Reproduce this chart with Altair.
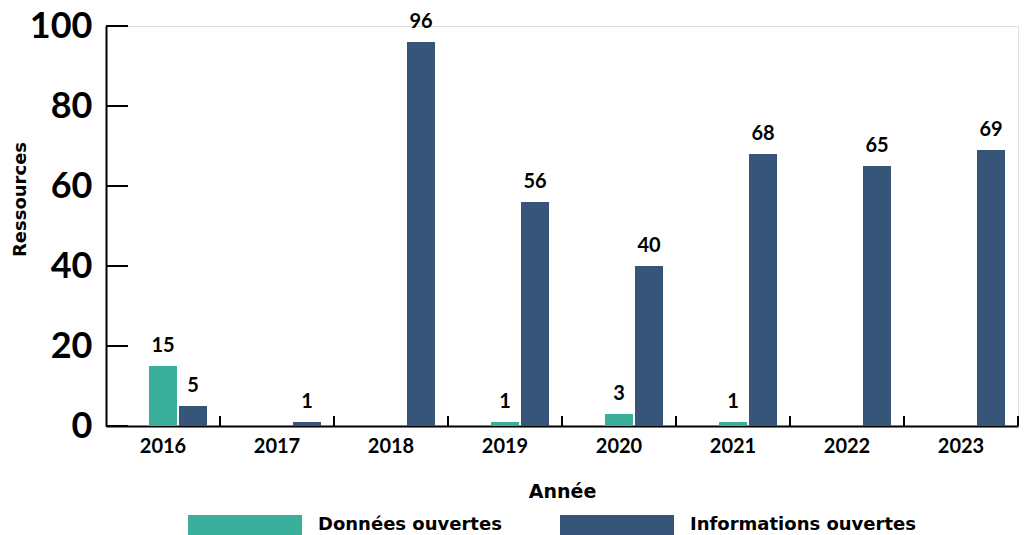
import altair as alt
import pandas as pd

years = ["2016", "2017", "2018", "2019", "2020", "2021", "2022", "2023"]
series_names = ["Données ouvertes", "Informations ouvertes"]
donnees = [15, 0, 0, 1, 3, 1, 0, 0]
informations = [5, 1, 96, 56, 40, 68, 65, 69]
y_ticks = [0, 20, 40, 60, 80, 100]
colors = ["#3AB09C", "#365578"]

rows = []
for i, y in enumerate(years):
    if donnees[i]:
        rows.append({"year": y, "series": series_names[0], "value": donnees[i]})
    if informations[i]:
        rows.append({"year": y, "series": series_names[1], "value": informations[i]})
df = pd.DataFrame(rows)
ticks_df = pd.DataFrame({"t": y_ticks})
years_df = pd.DataFrame({"year": years})

FONT = "Lato"
WIDE = "DejaVu Sans"
x_scale = alt.Scale(domain=years, paddingInner=0, paddingOuter=0)
off_scale = alt.Scale(domain=["_", series_names[0], series_names[1]],
                      paddingInner=0.067, paddingOuter=0.433)
y_scale = alt.Scale(domain=[0, 100], nice=False)

bars = alt.Chart(df).mark_bar().encode(
    x=alt.X("year:N", scale=x_scale,
            axis=alt.Axis(title="Année", labelAngle=0, ticks=False,
                          domainColor="black", domainWidth=2,
                          labelFont=FONT, labelFontSize=20, labelFontWeight="bold",
                          labelColor="black", labelPadding=10,
                          titleFont=WIDE, titleFontSize=19, titleFontWeight="bold",
                          titleColor="black", titlePadding=26)),
    xOffset=alt.XOffset("series:N", scale=off_scale),
    y=alt.Y("value:Q", scale=y_scale,
            axis=alt.Axis(title="Ressources", values=y_ticks, ticks=False, grid=False,
                          domainColor="black", domainWidth=2,
                          labelFont=FONT, labelFontSize=36, labelFontWeight="bold",
                          labelColor="black", labelPadding=14,
                          titleFont=WIDE, titleFontSize=18, titleFontWeight="bold",
                          titleColor="black", titleX=-86, titleY=173,
                          titleBaseline="middle")),
    color=alt.Color("series:N",
                    scale=alt.Scale(domain=series_names, range=colors),
                    legend=alt.Legend(title=None, orient="none", direction="horizontal",
                                      legendX=82, legendY=442,
                                      symbolType="M-1,-0.175L1,-0.175L1,0.175L-1,0.175Z",
                                      symbolSize=12996, symbolStrokeWidth=0,
                                      symbolOpacity=1, labelLimit=0,
                                      labelFont=WIDE, labelFontSize=18,
                                      labelFontWeight="bold", labelColor="black",
                                      labelOffset=16, columnPadding=58)),
)

labels = alt.Chart(df).mark_text(baseline="alphabetic", dy=-14, font=FONT, fontSize=20,
                                 fontWeight="bold", color="black").encode(
    x=alt.X("year:N", scale=x_scale),
    xOffset=alt.XOffset("series:N", scale=off_scale),
    y=alt.Y("value:Q", scale=y_scale),
    text="value:Q",
)

yticks = alt.Chart(ticks_df).mark_rule(color="black", strokeWidth=2).encode(
    y=alt.Y("t:Q", scale=y_scale),
    x=alt.value(0), x2=alt.value(22),
)

xticks = alt.Chart(years_df).mark_rule(color="black", strokeWidth=2).encode(
    x=alt.X("year:N", scale=x_scale, bandPosition=1),
    y=alt.value(400), y2=alt.value(390),
)

chart = alt.layer(bars, labels, yticks, xticks).properties(
    width=912, height=400,
    autosize=alt.AutoSizeParams(type="none"),
    padding={"left": 106, "top": 26, "right": 9, "bottom": 109},
).configure_view(stroke=None).configure(background="white")

chart.save("out.html", embed_options={"renderer": "svg", "actions": False})
